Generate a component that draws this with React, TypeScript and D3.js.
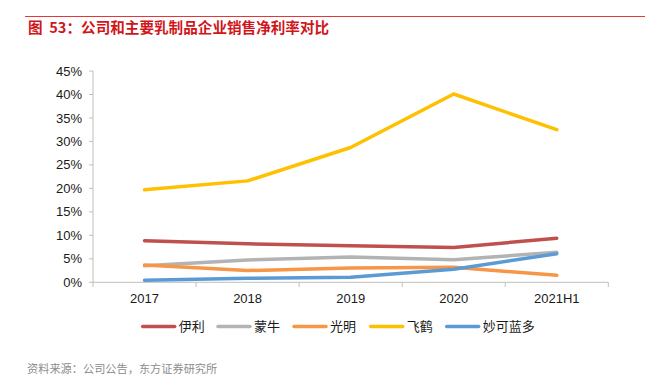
import React from "react";
import * as d3 from "d3";

const categories = ["2017", "2018", "2019", "2020", "2021H1"];
const seriesNames = ["伊利", "蒙牛", "光明", "飞鹤", "妙可蓝多"];
const yili = [8.85, 8.2, 7.8, 7.4, 9.4];
const mengniu = [3.5, 4.75, 5.4, 4.8, 6.4];
const guangming = [3.7, 2.5, 3.05, 3.2, 1.5];
const feihe = [19.7, 21.6, 28.7, 40.1, 32.5];
const miaoke = [0.45, 0.85, 1.06, 2.8, 6.1];
const seriesValues = [yili, mengniu, guangming, feihe, miaoke];
const colors = ["#c0504d", "#b3b3b3", "#f79646", "#ffc000", "#5b9bd5"];
const yTicks = [0, 5, 10, 15, 20, 25, 30, 35, 40, 45];

const W = 658;
const H = 375;
const FONT = "'Liberation Sans', Arial, sans-serif";
const CJK = "'Noto Sans CJK SC', 'Liberation Sans', sans-serif";

export default function App() {
  const x = d3.scaleBand<string>().domain(categories).range([93, 608.3]).padding(0);
  const y = d3.scaleLinear().domain([0, 45]).range([282.3, 71]);
  const line = d3
    .line<number>()
    .x((_, i) => (x(categories[i]) as number) + x.bandwidth() / 2)
    .y((v) => y(v));

  const legendStarts = [142.7, 218, 294, 370.7, 446.7];

  return (
    <svg
      width={W}
      height={H}
      style={{ position: "absolute", left: 0, top: 0, background: "#fff" }}
    >
      <rect x={0} y={0} width={W} height={H} fill="#fff" />
      {/* header */}
      <line x1={25} y1={16.5} x2={645} y2={16.5} stroke="#e0383b" strokeWidth={1.2} />
      <text
        x={28}
        y={33}
        fontFamily={CJK}
        fontSize={14.6}
        fontWeight="bold"
        fill="#d0161b"
        style={{ whiteSpace: "pre" }}
      >
        {"图  53：公司和主要乳制品企业销售净利率对比"}
      </text>

      {/* y axis */}
      <line x1={93} y1={71} x2={93} y2={282.3} stroke="#bfbfbf" strokeWidth={1} />
      {yTicks.map((t) => (
        <g key={t}>
          <line x1={89} x2={93} y1={y(t)} y2={y(t)} stroke="#bfbfbf" />
          <text
            x={82}
            y={y(t)}
            dy="0.35em"
            textAnchor="end"
            fontFamily={FONT}
            fontSize={13}
            fill="#1a1a1a"
          >
            {t}%
          </text>
        </g>
      ))}

      {/* x axis */}
      <line x1={93} x2={608.3} y1={282.3} y2={282.3} stroke="#bfbfbf" />
      {categories.concat(["__end"]).map((c, i) => {
        const xx = i < categories.length ? (x(c) as number) : 608.3;
        return <line key={"t" + i} x1={xx} x2={xx} y1={282.3} y2={287} stroke="#bfbfbf" />;
      })}
      {categories.map((c) => (
        <text
          key={c}
          x={(x(c) as number) + x.bandwidth() / 2}
          y={303}
          textAnchor="middle"
          fontFamily={FONT}
          fontSize={13}
          fill="#1a1a1a"
        >
          {c}
        </text>
      ))}

      {/* lines */}
      {seriesValues.map((vals, i) => (
        <path
          key={seriesNames[i]}
          d={line(vals) as string}
          fill="none"
          stroke={colors[i]}
          strokeWidth={3.5}
          strokeLinecap="round"
          strokeLinejoin="round"
        />
      ))}

      {/* legend */}
      {seriesNames.map((n, i) => (
        <g key={"lg" + n}>
          <line
            x1={legendStarts[i]}
            x2={legendStarts[i] + 32}
            y1={326.5}
            y2={326.5}
            stroke={colors[i]}
            strokeWidth={3.5}
            strokeLinecap="round"
          />
          <text
            x={legendStarts[i] + 36}
            y={326.5}
            dy="0.35em"
            fontFamily={CJK}
            fontSize={13}
            fill="#1a1a1a"
          >
            {n}
          </text>
        </g>
      ))}

      {/* source */}
      <text x={27} y={373} fontFamily={CJK} fontSize={11.2} fill="#8c8c8c">
        资料来源：公司公告，东方证券研究所
      </text>
    </svg>
  );
}
